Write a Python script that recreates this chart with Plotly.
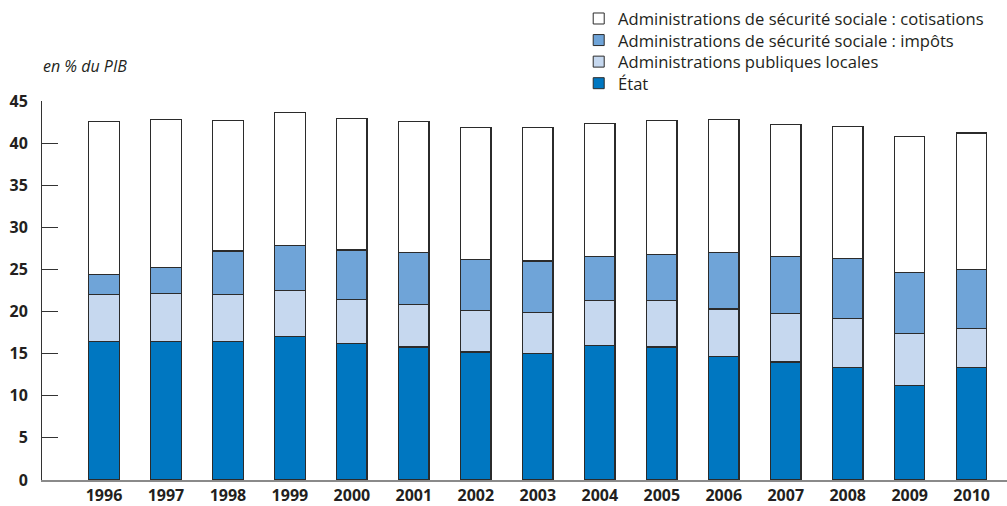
import plotly.graph_objects as go

years = ["1996", "1997", "1998", "1999", "2000", "2001", "2002", "2003",
         "2004", "2005", "2006", "2007", "2008", "2009", "2010"]
etat = [16.4, 16.4, 16.4, 17.0, 16.2, 15.8, 15.2, 15.0, 16.0, 15.8, 14.7, 14.0, 13.4, 11.2, 13.4]
apul = [5.6, 5.7, 5.6, 5.5, 5.2, 5.0, 4.9, 4.9, 5.3, 5.5, 5.6, 5.8, 5.8, 6.2, 4.6]
asso_impots = [2.4, 3.1, 5.2, 5.3, 5.9, 6.2, 6.1, 6.1, 5.2, 5.5, 6.7, 6.7, 7.1, 7.2, 7.0]
asso_cotis = [18.2, 17.6, 15.5, 15.8, 15.6, 15.6, 15.7, 15.9, 15.8, 15.9, 15.8, 15.7, 15.7, 16.2, 16.2]

series = [
    ("État", etat, "#0077C1"),
    ("Administrations publiques locales", apul, "#C6D8EF"),
    ("Administrations de sécurité sociale : impôts", asso_impots, "#6FA4D8"),
    ("Administrations de sécurité sociale : cotisations", asso_cotis, "#FFFFFF"),
]

FONT = "Open Sans, Noto Sans, sans-serif"
W, H = 1007, 506
ML, MR, MT, MB = 41.5, 0, 100.7, 26
PW = W - ML - MR
PH = H - MT - MB

fig = go.Figure()
for name, vals, col in series:
    fig.add_trace(go.Bar(
        x=years, y=vals, name=name,
        marker=dict(color=col, line=dict(color="#2b2b2b", width=1.2)),
        width=0.49, showlegend=False,
    ))

fig.update_layout(
    barmode="stack",
    width=W, height=H,
    margin=dict(l=ML, r=MR, t=MT, b=MB, autoexpand=False),
    paper_bgcolor="white", plot_bgcolor="white",
    font=dict(family=FONT, color="#231f20"),
    showlegend=False,
    xaxis=dict(
        type="category", range=[-1, 14.57], automargin=False,
        showline=True, linecolor="#8a8a8a", linewidth=2,
        ticks="", showgrid=False, zeroline=False,
        tickfont=dict(size=16, family=FONT, color="#231f20", weight="bold"),
    ),
    yaxis=dict(
        range=[0, 45], tickvals=[0, 5, 10, 15, 20, 25, 30, 35, 40, 45], automargin=False,
        showline=True, linecolor="#333333", linewidth=1,
        ticks="inside", ticklen=16, tickcolor="#333333", tickwidth=1,
        showgrid=False, zeroline=False,
        tickfont=dict(size=16, family=FONT, color="#231f20", weight="bold"),
        ticklabelstandoff=10,
    ),
)

# Legend drawn manually (top -> bottom: cotisations, impôts, locales, État)
def px_x(p):
    return (p - ML) / PW

def px_y(p):
    return (H - MB - p) / PH

LEG_FS = 16.6
line_h = LEG_FS * 1.3
center = 50.5
legend_items = list(reversed(series))
n = len(legend_items)
for i, (name, vals, col) in enumerate(legend_items):
    yc = center + (i - (n - 1) / 2) * line_h
    fig.add_shape(
        type="rect", xref="paper", yref="paper",
        x0=px_x(593), x1=px_x(604), y0=px_y(yc + 5.5), y1=px_y(yc - 5.5),
        fillcolor=col, line=dict(color="#2b2b2b", width=1),
    )
fig.add_annotation(
    text="<br>".join(name for name, _, _ in legend_items),
    xref="paper", yref="paper", align="left",
    x=px_x(616), y=px_y(center), xanchor="left", yanchor="middle",
    showarrow=False, font=dict(size=LEG_FS, family=FONT, color="#231f20"),
)

fig.add_annotation(
    text="<i>en % du PIB</i>", xref="paper", yref="paper",
    x=px_x(40), y=px_y(66), xanchor="left", yanchor="middle", showarrow=False,
    font=dict(size=16, color="#231f20", family=FONT),
)

fig.write_html(
    "out.html",
    config={"displayModeBar": False},
    post_script="document.body.style.margin='0';document.body.style.overflow='hidden';",
)
